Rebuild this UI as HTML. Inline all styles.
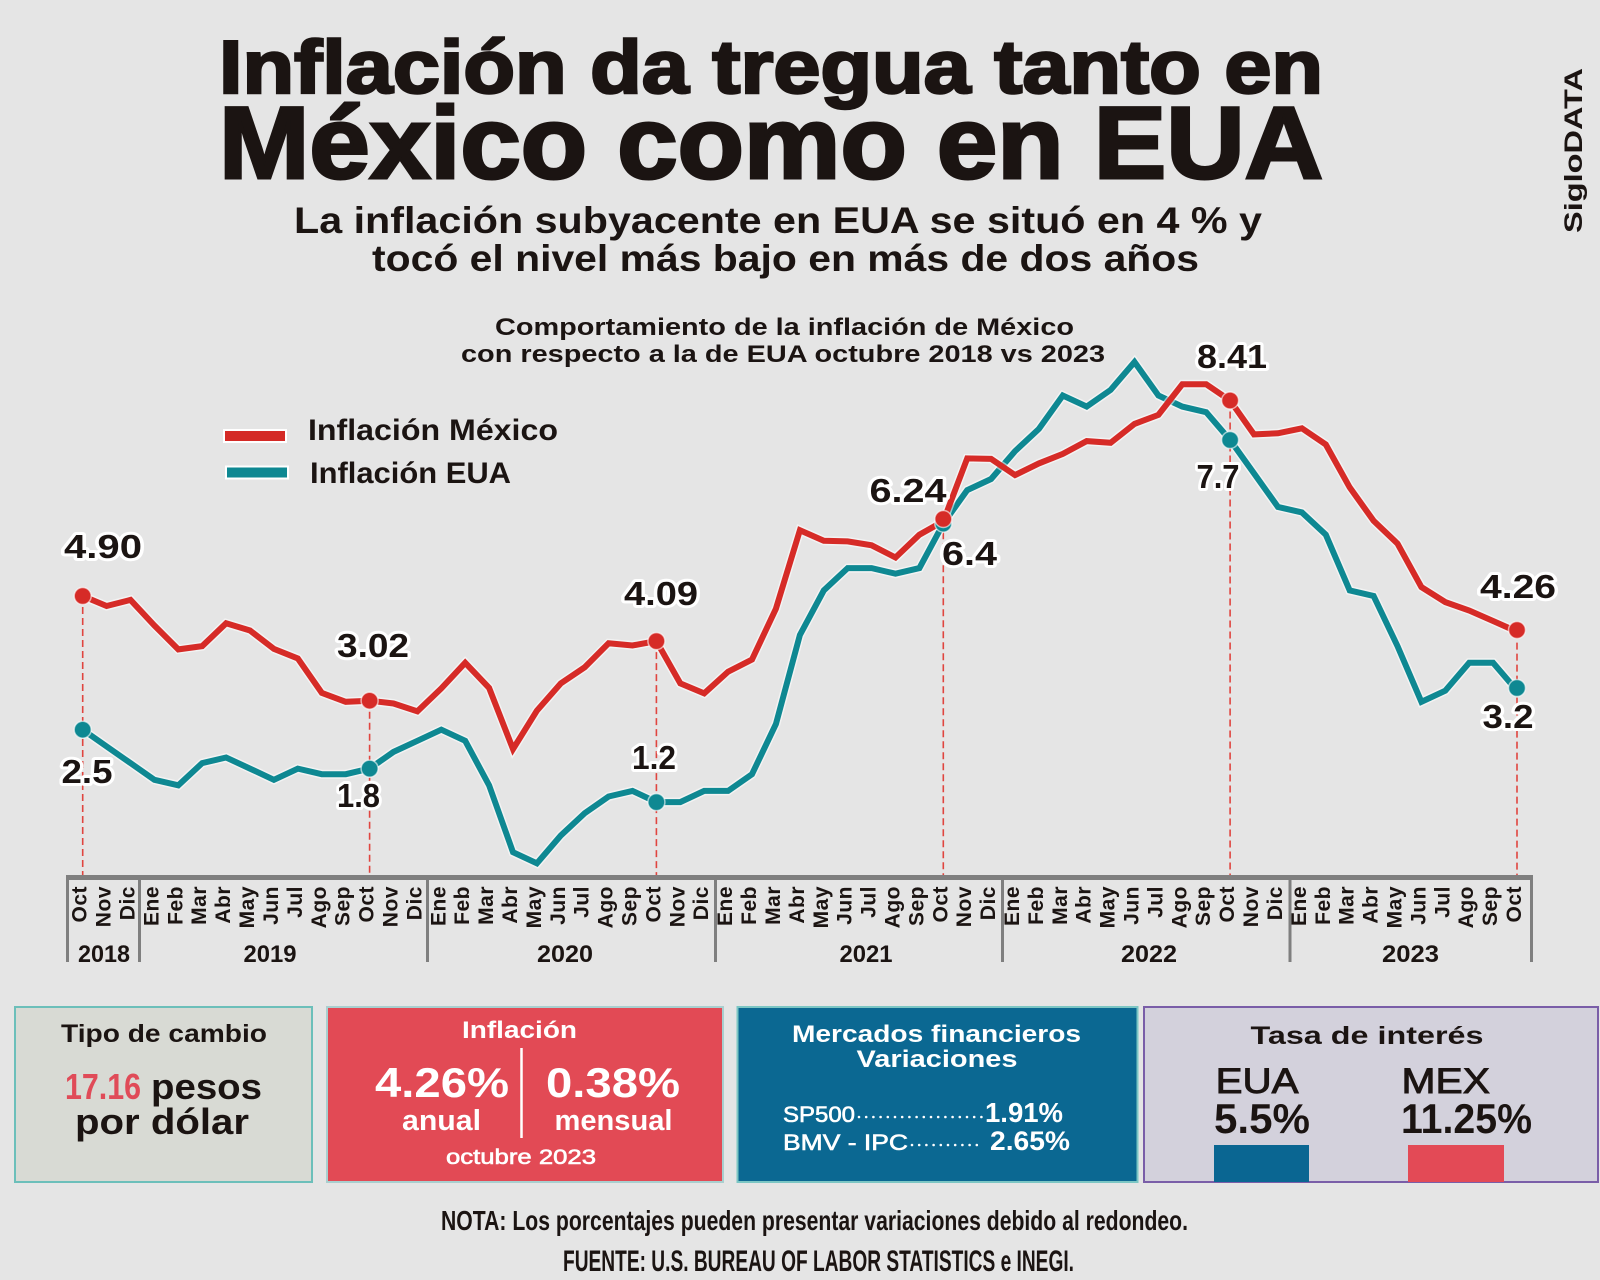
<!DOCTYPE html>
<html>
<head>
<meta charset="utf-8">
<style>
  html,body{margin:0;padding:0;background:#e5e5e5;}
  body{width:1600px;height:1280px;overflow:hidden;}
  svg{display:block;}
  .t{font-family:"Liberation Sans",Arial,sans-serif;font-weight:bold;fill:#1b1412;}
  .w{fill:#ffffff;}
  .mo{font-family:"Liberation Sans",Arial,sans-serif;font-weight:bold;font-size:21px;fill:#1b1412;letter-spacing:0.5px;}
  .lbl{font-family:"Liberation Sans",Arial,sans-serif;font-weight:bold;font-size:33px;fill:#1b1412;stroke:#ffffff;stroke-width:6px;paint-order:stroke;stroke-linejoin:round;}
</style>
</head>
<body>
<svg width="1600" height="1280" viewBox="0 0 1600 1280" xmlns="http://www.w3.org/2000/svg">
  <rect x="0" y="0" width="1600" height="1280" fill="#e5e5e5"/>

  <!-- Titles -->
  <text class="t" x="219" y="93" font-size="75" textLength="1104" lengthAdjust="spacingAndGlyphs" stroke="#1b1412" stroke-width="2.5">Inflación da tregua tanto en</text>
  <text class="t" x="219" y="178" font-size="102" textLength="1104" lengthAdjust="spacingAndGlyphs" stroke="#1b1412" stroke-width="3">México como en EUA</text>
  <text class="t" x="294" y="233" font-size="37" textLength="968" lengthAdjust="spacingAndGlyphs">La inflación subyacente en EUA se situó en 4 % y</text>
  <text class="t" x="372" y="271" font-size="37" textLength="827" lengthAdjust="spacingAndGlyphs">tocó el nivel más bajo en más de dos años</text>

  <!-- SigloDATA vertical -->
  <text class="t" transform="translate(1582,233) rotate(-90)" font-size="25" textLength="165" lengthAdjust="spacingAndGlyphs">SigloDATA</text>

  <!-- Chart title -->
  <text class="t" x="495" y="335" font-size="24" textLength="579" lengthAdjust="spacingAndGlyphs">Comportamiento de la inflación de México</text>
  <text class="t" x="461" y="362" font-size="24" textLength="644" lengthAdjust="spacingAndGlyphs">con respecto a la de EUA octubre 2018 vs 2023</text>

  <!-- Legend -->
  <rect x="224" y="430" width="62" height="12" fill="#d42a26" stroke="#ffffff" stroke-width="2"/>
  <rect x="226" y="466.5" width="62" height="12" fill="#0e8892" stroke="#ffffff" stroke-width="2"/>
  <text class="t" x="308" y="440" font-size="30" textLength="250" lengthAdjust="spacingAndGlyphs">Inflación México</text>
  <text class="t" x="310" y="483" font-size="30" textLength="201" lengthAdjust="spacingAndGlyphs">Inflación EUA</text>

  <!-- Dashed reference lines -->
  <g stroke="#e0453f" stroke-width="1.6" stroke-dasharray="7,4" fill="none">
    <line x1="82.7" y1="596" x2="82.7" y2="875"/>
    <line x1="369.6" y1="700.7" x2="369.6" y2="875"/>
    <line x1="656.4" y1="641.1" x2="656.4" y2="875"/>
    <line x1="943.3" y1="521.3" x2="943.3" y2="875"/>
    <line x1="1230.1" y1="400.5" x2="1230.1" y2="875"/>
    <line x1="1517" y1="631.6" x2="1517" y2="875"/>
  </g>

  <!-- US line -->
  <polyline fill="none" stroke="#ffffff" stroke-opacity="0.55" stroke-width="9" stroke-linejoin="miter" stroke-miterlimit="2.5"
    points="82.7,729.7 106.6,746.4 130.5,763.1 154.4,779.8 178.3,785.3 202.2,763.1 226.1,757.5 250.0,768.6 273.9,779.8 297.8,768.6 321.8,774.2 345.7,774.2 369.6,768.6 393.5,751.9 417.4,740.8 441.3,729.7 465.2,740.8 489.1,785.3 513.0,852.2 536.9,863.3 560.8,835.5 584.7,813.2 608.6,796.5 632.5,790.9 656.4,802.1 680.3,802.1 704.2,790.9 728.1,790.9 752.0,774.2 775.9,724.1 799.9,635.0 823.8,590.4 847.7,568.1 871.6,568.1 895.5,573.7 919.4,568.1 943.3,523.6 967.2,490.1 991.1,479.0 1015.0,451.2 1038.9,428.9 1062.8,395.5 1086.7,406.6 1110.6,389.9 1134.5,362.0 1158.4,395.5 1182.3,406.6 1206.2,412.2 1230.1,440.0 1254.0,473.4 1277.9,506.9 1301.9,512.4 1325.8,534.7 1349.7,590.4 1373.6,596.0 1397.5,646.1 1421.4,701.8 1445.3,690.7 1469.2,662.8 1493.1,662.8 1517.0,690.7"/>
  <polyline fill="none" stroke="#0e8892" stroke-width="6" stroke-linejoin="miter" stroke-miterlimit="2.5"
    points="82.7,729.7 106.6,746.4 130.5,763.1 154.4,779.8 178.3,785.3 202.2,763.1 226.1,757.5 250.0,768.6 273.9,779.8 297.8,768.6 321.8,774.2 345.7,774.2 369.6,768.6 393.5,751.9 417.4,740.8 441.3,729.7 465.2,740.8 489.1,785.3 513.0,852.2 536.9,863.3 560.8,835.5 584.7,813.2 608.6,796.5 632.5,790.9 656.4,802.1 680.3,802.1 704.2,790.9 728.1,790.9 752.0,774.2 775.9,724.1 799.9,635.0 823.8,590.4 847.7,568.1 871.6,568.1 895.5,573.7 919.4,568.1 943.3,523.6 967.2,490.1 991.1,479.0 1015.0,451.2 1038.9,428.9 1062.8,395.5 1086.7,406.6 1110.6,389.9 1134.5,362.0 1158.4,395.5 1182.3,406.6 1206.2,412.2 1230.1,440.0 1254.0,473.4 1277.9,506.9 1301.9,512.4 1325.8,534.7 1349.7,590.4 1373.6,596.0 1397.5,646.1 1421.4,701.8 1445.3,690.7 1469.2,662.8 1493.1,662.8 1517.0,690.7"/>

  <!-- Mexico line -->
  <polyline fill="none" stroke="#ffffff" stroke-opacity="0.55" stroke-width="9" stroke-linejoin="miter" stroke-miterlimit="2.5"
    points="82.7,596.0 106.6,606.0 130.5,599.9 154.4,625.5 178.3,649.4 202.2,646.1 226.1,623.3 250.0,630.5 273.9,648.9 297.8,658.4 321.8,692.9 345.7,701.8 369.6,700.7 393.5,703.5 417.4,711.3 441.3,688.4 465.2,662.8 489.1,687.9 513.0,749.1 536.9,710.7 560.8,683.4 584.7,667.3 608.6,643.3 632.5,645.5 656.4,641.1 680.3,683.4 704.2,693.4 728.1,671.7 752.0,659.5 775.9,608.8 799.9,530.2 823.8,540.8 847.7,541.4 871.6,545.3 895.5,557.5 919.4,534.7 943.3,521.3 967.2,458.4 991.1,458.9 1015.0,475.1 1038.9,463.4 1062.8,453.9 1086.7,441.1 1110.6,442.8 1134.5,423.9 1158.4,414.9 1182.3,384.3 1206.2,384.3 1230.1,400.5 1254.0,434.4 1277.9,433.3 1301.9,428.3 1325.8,444.5 1349.7,487.4 1373.6,520.8 1397.5,543.6 1421.4,587.1 1445.3,602.1 1469.2,610.5 1493.1,621.0 1517.0,631.6"/>
  <polyline fill="none" stroke="#d62b27" stroke-width="6" stroke-linejoin="miter" stroke-miterlimit="2.5"
    points="82.7,596.0 106.6,606.0 130.5,599.9 154.4,625.5 178.3,649.4 202.2,646.1 226.1,623.3 250.0,630.5 273.9,648.9 297.8,658.4 321.8,692.9 345.7,701.8 369.6,700.7 393.5,703.5 417.4,711.3 441.3,688.4 465.2,662.8 489.1,687.9 513.0,749.1 536.9,710.7 560.8,683.4 584.7,667.3 608.6,643.3 632.5,645.5 656.4,641.1 680.3,683.4 704.2,693.4 728.1,671.7 752.0,659.5 775.9,608.8 799.9,530.2 823.8,540.8 847.7,541.4 871.6,545.3 895.5,557.5 919.4,534.7 943.3,521.3 967.2,458.4 991.1,458.9 1015.0,475.1 1038.9,463.4 1062.8,453.9 1086.7,441.1 1110.6,442.8 1134.5,423.9 1158.4,414.9 1182.3,384.3 1206.2,384.3 1230.1,400.5 1254.0,434.4 1277.9,433.3 1301.9,428.3 1325.8,444.5 1349.7,487.4 1373.6,520.8 1397.5,543.6 1421.4,587.1 1445.3,602.1 1469.2,610.5 1493.1,621.0 1517.0,631.6"/>

  <!-- Markers -->
  <g fill="#0e8892" stroke="#ffffff" stroke-opacity="0.6" stroke-width="1.5">
    <circle cx="82.7" cy="729.7" r="8.5"/>
    <circle cx="369.6" cy="768.6" r="8.5"/>
    <circle cx="656.4" cy="802.1" r="8.5"/>
    <circle cx="943.3" cy="523.6" r="8.5"/>
    <circle cx="1230.1" cy="440.0" r="8.5"/>
    <circle cx="1517" cy="688" r="8.5"/>
  </g>
  <g fill="#d62b27" stroke="#ffffff" stroke-opacity="0.6" stroke-width="1.5">
    <circle cx="82.7" cy="596" r="8.5"/>
    <circle cx="369.6" cy="700.7" r="8.5"/>
    <circle cx="656.4" cy="641.1" r="8.5"/>
    <circle cx="943.3" cy="519" r="8.5"/>
    <circle cx="1230.1" cy="400.5" r="8.5"/>
    <circle cx="1517" cy="630" r="8.5"/>
  </g>

  <!-- Data labels -->
  <g text-anchor="middle">
    <text class="lbl" x="103" y="558" textLength="78" lengthAdjust="spacingAndGlyphs">4.90</text>
    <text class="lbl" x="87" y="783" textLength="51" lengthAdjust="spacingAndGlyphs">2.5</text>
    <text class="lbl" x="373" y="657" textLength="72" lengthAdjust="spacingAndGlyphs">3.02</text>
    <text class="lbl" x="358.5" y="807" textLength="43" lengthAdjust="spacingAndGlyphs">1.8</text>
    <text class="lbl" x="661" y="605" textLength="74" lengthAdjust="spacingAndGlyphs">4.09</text>
    <text class="lbl" x="654" y="769" textLength="44" lengthAdjust="spacingAndGlyphs">1.2</text>
    <text class="lbl" x="908" y="502" textLength="77" lengthAdjust="spacingAndGlyphs">6.24</text>
    <text class="lbl" x="969.5" y="565" textLength="55" lengthAdjust="spacingAndGlyphs">6.4</text>
    <text class="lbl" x="1232" y="368" textLength="70" lengthAdjust="spacingAndGlyphs">8.41</text>
    <text class="lbl" x="1218" y="488" textLength="43" lengthAdjust="spacingAndGlyphs">7.7</text>
    <text class="lbl" x="1518" y="598" textLength="76" lengthAdjust="spacingAndGlyphs">4.26</text>
    <text class="lbl" x="1508" y="728" textLength="51" lengthAdjust="spacingAndGlyphs">3.2</text>
  </g>

  <!-- Axis -->
  <rect x="66" y="875" width="1467" height="5" fill="#7f7f7f"/>
  <g fill="#7f7f7f">
    <rect x="66" y="875" width="3" height="87"/>
    <rect x="138" y="875" width="3" height="87"/>
    <rect x="426" y="875" width="3" height="87"/>
    <rect x="714" y="875" width="3" height="87"/>
    <rect x="1001" y="875" width="3" height="87"/>
    <rect x="1288.5" y="875" width="3" height="87"/>
    <rect x="1530" y="875" width="3" height="87"/>
  </g>

  <!-- Month labels -->
  <g class="mo" text-anchor="end">
    <text class="mo" transform="translate(86.7,886) rotate(-90)">Oct</text>
    <text class="mo" transform="translate(110.6,886) rotate(-90)">Nov</text>
    <text class="mo" transform="translate(134.5,886) rotate(-90)">Dic</text>
    <text class="mo" transform="translate(158.4,886) rotate(-90)">Ene</text>
    <text class="mo" transform="translate(182.3,886) rotate(-90)">Feb</text>
    <text class="mo" transform="translate(206.2,886) rotate(-90)">Mar</text>
    <text class="mo" transform="translate(230.1,886) rotate(-90)">Abr</text>
    <text class="mo" transform="translate(254.0,886) rotate(-90)">May</text>
    <text class="mo" transform="translate(277.9,886) rotate(-90)">Jun</text>
    <text class="mo" transform="translate(301.8,886) rotate(-90)">Jul</text>
    <text class="mo" transform="translate(325.8,886) rotate(-90)">Ago</text>
    <text class="mo" transform="translate(349.7,886) rotate(-90)">Sep</text>
    <text class="mo" transform="translate(373.6,886) rotate(-90)">Oct</text>
    <text class="mo" transform="translate(397.5,886) rotate(-90)">Nov</text>
    <text class="mo" transform="translate(421.4,886) rotate(-90)">Dic</text>
    <text class="mo" transform="translate(445.3,886) rotate(-90)">Ene</text>
    <text class="mo" transform="translate(469.2,886) rotate(-90)">Feb</text>
    <text class="mo" transform="translate(493.1,886) rotate(-90)">Mar</text>
    <text class="mo" transform="translate(517.0,886) rotate(-90)">Abr</text>
    <text class="mo" transform="translate(540.9,886) rotate(-90)">May</text>
    <text class="mo" transform="translate(564.8,886) rotate(-90)">Jun</text>
    <text class="mo" transform="translate(588.7,886) rotate(-90)">Jul</text>
    <text class="mo" transform="translate(612.6,886) rotate(-90)">Ago</text>
    <text class="mo" transform="translate(636.5,886) rotate(-90)">Sep</text>
    <text class="mo" transform="translate(660.4,886) rotate(-90)">Oct</text>
    <text class="mo" transform="translate(684.3,886) rotate(-90)">Nov</text>
    <text class="mo" transform="translate(708.2,886) rotate(-90)">Dic</text>
    <text class="mo" transform="translate(732.1,886) rotate(-90)">Ene</text>
    <text class="mo" transform="translate(756.0,886) rotate(-90)">Feb</text>
    <text class="mo" transform="translate(779.9,886) rotate(-90)">Mar</text>
    <text class="mo" transform="translate(803.9,886) rotate(-90)">Abr</text>
    <text class="mo" transform="translate(827.8,886) rotate(-90)">May</text>
    <text class="mo" transform="translate(851.7,886) rotate(-90)">Jun</text>
    <text class="mo" transform="translate(875.6,886) rotate(-90)">Jul</text>
    <text class="mo" transform="translate(899.5,886) rotate(-90)">Ago</text>
    <text class="mo" transform="translate(923.4,886) rotate(-90)">Sep</text>
    <text class="mo" transform="translate(947.3,886) rotate(-90)">Oct</text>
    <text class="mo" transform="translate(971.2,886) rotate(-90)">Nov</text>
    <text class="mo" transform="translate(995.1,886) rotate(-90)">Dic</text>
    <text class="mo" transform="translate(1019.0,886) rotate(-90)">Ene</text>
    <text class="mo" transform="translate(1042.9,886) rotate(-90)">Feb</text>
    <text class="mo" transform="translate(1066.8,886) rotate(-90)">Mar</text>
    <text class="mo" transform="translate(1090.7,886) rotate(-90)">Abr</text>
    <text class="mo" transform="translate(1114.6,886) rotate(-90)">May</text>
    <text class="mo" transform="translate(1138.5,886) rotate(-90)">Jun</text>
    <text class="mo" transform="translate(1162.4,886) rotate(-90)">Jul</text>
    <text class="mo" transform="translate(1186.3,886) rotate(-90)">Ago</text>
    <text class="mo" transform="translate(1210.2,886) rotate(-90)">Sep</text>
    <text class="mo" transform="translate(1234.1,886) rotate(-90)">Oct</text>
    <text class="mo" transform="translate(1258.0,886) rotate(-90)">Nov</text>
    <text class="mo" transform="translate(1281.9,886) rotate(-90)">Dic</text>
    <text class="mo" transform="translate(1305.9,886) rotate(-90)">Ene</text>
    <text class="mo" transform="translate(1329.8,886) rotate(-90)">Feb</text>
    <text class="mo" transform="translate(1353.7,886) rotate(-90)">Mar</text>
    <text class="mo" transform="translate(1377.6,886) rotate(-90)">Abr</text>
    <text class="mo" transform="translate(1401.5,886) rotate(-90)">May</text>
    <text class="mo" transform="translate(1425.4,886) rotate(-90)">Jun</text>
    <text class="mo" transform="translate(1449.3,886) rotate(-90)">Jul</text>
    <text class="mo" transform="translate(1473.2,886) rotate(-90)">Ago</text>
    <text class="mo" transform="translate(1497.1,886) rotate(-90)">Sep</text>
    <text class="mo" transform="translate(1521.0,886) rotate(-90)">Oct</text>
  </g>

  <!-- Year labels -->
  <g text-anchor="middle">
    <text class="t" x="104" y="962" font-size="24" textLength="52" lengthAdjust="spacingAndGlyphs">2018</text>
    <text class="t" x="270" y="962" font-size="24" textLength="53" lengthAdjust="spacingAndGlyphs">2019</text>
    <text class="t" x="565" y="962" font-size="24" textLength="56" lengthAdjust="spacingAndGlyphs">2020</text>
    <text class="t" x="866" y="962" font-size="24" textLength="53" lengthAdjust="spacingAndGlyphs">2021</text>
    <text class="t" x="1149" y="962" font-size="24" textLength="56" lengthAdjust="spacingAndGlyphs">2022</text>
    <text class="t" x="1410.5" y="962" font-size="24" textLength="57" lengthAdjust="spacingAndGlyphs">2023</text>
  </g>

  <!-- Box 1: Tipo de cambio -->
  <rect x="15" y="1007" width="297" height="175" fill="#d8dad4" stroke="#6cbfba" stroke-width="2"/>
  <text class="t" x="61" y="1042" font-size="25" textLength="206" lengthAdjust="spacingAndGlyphs">Tipo de cambio</text>
  <text class="t" x="65" y="1099" font-size="36" textLength="76" lengthAdjust="spacingAndGlyphs" style="fill:#e04b58">17.16</text>
  <text class="t" x="151" y="1099" font-size="36" textLength="111" lengthAdjust="spacingAndGlyphs">pesos</text>
  <text class="t" x="75" y="1134" font-size="36" textLength="174" lengthAdjust="spacingAndGlyphs">por dólar</text>

  <!-- Box 2: Inflación -->
  <rect x="327" y="1007" width="396" height="175" fill="#e24a55" stroke="#a9cfcf" stroke-width="2"/>
  <text class="t w" x="462" y="1038" font-size="24" textLength="115" lengthAdjust="spacingAndGlyphs">Inflación</text>
  <text class="t w" x="375" y="1097" font-size="42" textLength="134" lengthAdjust="spacingAndGlyphs">4.26%</text>
  <text class="t w" x="546" y="1097" font-size="42" textLength="134" lengthAdjust="spacingAndGlyphs">0.38%</text>
  <line x1="521.5" y1="1048" x2="521.5" y2="1138" stroke="#ffffff" stroke-width="2.5"/>
  <text class="t w" x="402" y="1130" font-size="29" textLength="79" lengthAdjust="spacingAndGlyphs">anual</text>
  <text class="t w" x="554.5" y="1130" font-size="29" textLength="118" lengthAdjust="spacingAndGlyphs">mensual</text>
  <text class="t w" x="446" y="1164" font-size="21" textLength="150" lengthAdjust="spacingAndGlyphs" style="font-weight:normal" stroke="#ffffff" stroke-width="0.6">octubre 2023</text>

  <!-- Box 3: Mercados financieros -->
  <rect x="737.5" y="1007" width="400" height="175" fill="#0b6892" stroke="#7cc6c4" stroke-width="2"/>
  <text class="t w" x="792" y="1042" font-size="24" textLength="289" lengthAdjust="spacingAndGlyphs">Mercados financieros</text>
  <text class="t w" x="856.5" y="1067" font-size="24" textLength="161" lengthAdjust="spacingAndGlyphs">Variaciones</text>
  <text class="t w" x="783" y="1122" font-size="22" textLength="72" lengthAdjust="spacingAndGlyphs" style="font-weight:normal" stroke="#ffffff" stroke-width="0.6">SP500</text>
  <line x1="859" y1="1117" x2="982" y2="1117" stroke="#ffffff" stroke-width="2.6" stroke-linecap="round" stroke-dasharray="0 7.2"/>
  <text class="t w" x="985" y="1122" font-size="28" textLength="78" lengthAdjust="spacingAndGlyphs">1.91%</text>
  <text class="t w" x="783" y="1150" font-size="22" textLength="125" lengthAdjust="spacingAndGlyphs" style="font-weight:normal" stroke="#ffffff" stroke-width="0.6">BMV - IPC</text>
  <line x1="912" y1="1145" x2="982" y2="1145" stroke="#ffffff" stroke-width="2.6" stroke-linecap="round" stroke-dasharray="0 7.2"/>
  <text class="t w" x="990" y="1150" font-size="27" textLength="80" lengthAdjust="spacingAndGlyphs">2.65%</text>

  <!-- Box 4: Tasa de interés -->
  <rect x="1144" y="1007" width="454" height="175" fill="#d3d1dc" stroke="#7a5ea8" stroke-width="2"/>
  <text class="t" x="1250.5" y="1044" font-size="25" textLength="233" lengthAdjust="spacingAndGlyphs">Tasa de interés</text>
  <text class="t" x="1215.6" y="1093" font-size="35" textLength="83" lengthAdjust="spacingAndGlyphs" style="font-weight:normal" stroke="#1b1412" stroke-width="0.9">EUA</text>
  <text class="t" x="1401.5" y="1093" font-size="35" textLength="88.5" lengthAdjust="spacingAndGlyphs" style="font-weight:normal" stroke="#1b1412" stroke-width="0.9">MEX</text>
  <text class="t" x="1214" y="1133" font-size="42" textLength="96" lengthAdjust="spacingAndGlyphs">5.5%</text>
  <text class="t" x="1401" y="1133" font-size="42" textLength="131" lengthAdjust="spacingAndGlyphs">11.25%</text>
  <rect x="1214" y="1145" width="95" height="37" fill="#0a6692"/>
  <rect x="1408" y="1145" width="96" height="37" fill="#e34a56"/>

  <!-- Footer -->
  <text class="t" x="441" y="1230" font-size="28" textLength="747" lengthAdjust="spacingAndGlyphs">NOTA: Los porcentajes pueden presentar variaciones debido al redondeo.</text>
  <text class="t" x="563" y="1271" font-size="30" textLength="511" lengthAdjust="spacingAndGlyphs">FUENTE: U.S. BUREAU OF LABOR STATISTICS e INEGI.</text>
</svg>
</body>
</html>
